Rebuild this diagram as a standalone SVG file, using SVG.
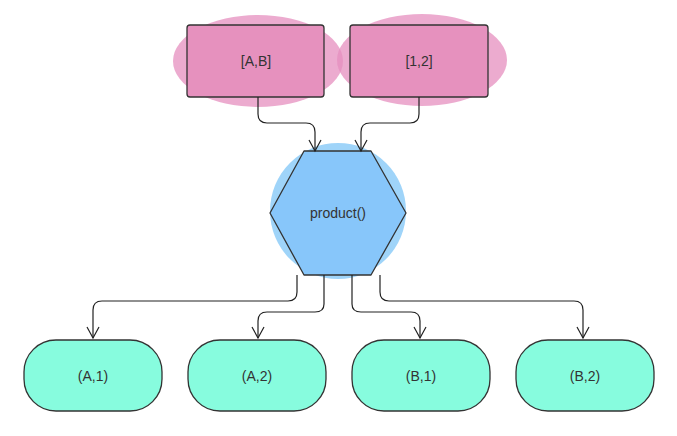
<svg xmlns="http://www.w3.org/2000/svg" width="677" height="436" viewBox="0 0 677 436">
<defs>
<style>
text{font-family:"Liberation Sans",Arial,sans-serif;font-size:14px;fill:#333;text-anchor:middle;dominant-baseline:central}
.blob{fill:#e58fbf;opacity:0.75}
.box{fill:#e691be;stroke:#333;stroke-width:1.3}
.leaf{fill:#87fcde;stroke:#333;stroke-width:1.3}
.con{fill:none;stroke:#222;stroke-width:1.2}
</style>
</defs>
<g id="nodeAB">
<ellipse class="blob" cx="258" cy="61" rx="85" ry="46"/>
<rect class="box" x="187" y="25" width="137" height="72" rx="3"/>
<text x="256" y="61">[A,B]</text>
</g>
<g id="node12">
<ellipse class="blob" cx="422" cy="60" rx="85" ry="46"/>
<rect class="box" x="350" y="25" width="138" height="72" rx="3"/>
<text x="419" y="61">[1,2]</text>
</g>
<g id="product">
<circle cx="338" cy="211" r="68" fill="#8ecdf8" opacity="0.85"/>
<path d="M304,151 H371 L406,213 L371,275 H304 L270,213 Z" fill="#87c6fa" stroke="#333" stroke-width="1.3" stroke-linejoin="round"/>
<text x="338" y="213">product()</text>
</g>
<g id="leafA1"><rect class="leaf" x="24" y="340" width="138" height="71" rx="32"/><text x="93" y="376">(A,1)</text></g>
<g id="leafA2"><rect class="leaf" x="188" y="340" width="138" height="71" rx="32"/><text x="257" y="376">(A,2)</text></g>
<g id="leafB1"><rect class="leaf" x="352" y="340" width="138" height="71" rx="32"/><text x="421" y="376">(B,1)</text></g>
<g id="leafB2"><rect class="leaf" x="516" y="340" width="138" height="71" rx="32"/><text x="585" y="376">(B,2)</text></g>
<g id="connectors">
<path class="con" d="M258,97 V114 Q258,123 267,123 H306 Q315,123 315,132 V151"/>
<path class="con" d="M419,97 V114 Q419,123 410,123 H370 Q361,123 361,132 V151"/>
<path class="con" d="M297,275 V292 Q297,301 288,301 H102 Q93,301 93,310 V338"/>
<path class="con" d="M324,275 V304 Q324,312 315,312 H267 Q258,312 258,321 V338"/>
<path class="con" d="M352,275 V304 Q352,312 361,312 H411 Q420,312 420,321 V338"/>
<path class="con" d="M380,275 V292 Q380,301 389,301 H574 Q583,301 583,310 V338"/>
<g fill="none" stroke="#222" stroke-width="1.2">
<path d="M309,140 L315,151 L321,140"/><path d="M355,140 L361,151 L367,140"/>
<path d="M87,327 L93,338 L99,327"/><path d="M252,327 L258,338 L264,327"/>
<path d="M414,327 L420,338 L426,327"/><path d="M577,327 L583,338 L589,327"/>
</g>
</g>
</svg>
